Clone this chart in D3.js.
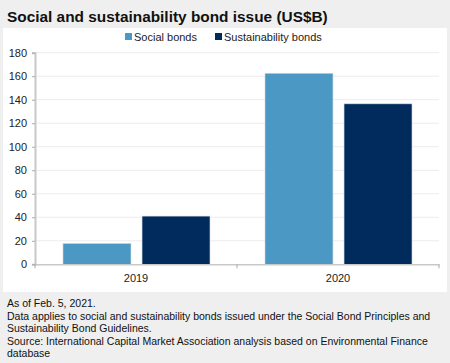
<!DOCTYPE html>
<html><head><meta charset="utf-8">
<script src="https://cdn.jsdelivr.net/npm/d3@7"></script>
<style>
body{margin:0;background:#efefef;}
svg{display:block;font-family:"Liberation Sans",Arial,sans-serif;}
</style></head><body>
<svg id="c" width="450" height="363"></svg>
<script>
const categories = ["2019", "2020"];
const seriesNames = ["Social bonds", "Sustainability bonds"];
const socialValues = [17.7, 162.5];
const sustainabilityValues = [41, 136.5];
const yTicks = [0, 20, 40, 60, 80, 100, 120, 140, 160, 180];
const colors = ["#4b98c4", "#002b5c"];
const notes = [
  "As of Feb. 5, 2021.",
  "Data applies to social and sustainability bonds issued under the Social Bond Principles and",
  "Sustainability Bond Guidelines.",
  "Source: International Capital Market Association analysis based on Environmental Finance",
  "database"
];

const svg = d3.select("#c");
svg.append("rect").attr("x",0).attr("y",0).attr("width",450).attr("height",363).attr("fill","#efefef");
svg.append("text").attr("x",7).attr("y",22).attr("font-size",15.4).attr("font-weight","bold")
  .attr("fill","#111").text("Social and sustainability bond issue (US$B)");
svg.append("rect").attr("x",3).attr("y",28).attr("width",444).attr("height",264).attr("fill","#fff");

const x0 = d3.scaleBand().domain(categories).range([35,439]);
const x1 = d3.scaleBand().domain(seriesNames).range([28, 175]).paddingInner(0.14);
const y = d3.scaleLinear().domain([0,180]).range([264.3,52.7]);

// gridlines
svg.append("g").selectAll("line").data(yTicks.filter(d=>d>0)).join("line")
  .attr("x1",35).attr("x2",439).attr("y1",d=>y(d)).attr("y2",d=>y(d))
  .attr("stroke","#ececec").attr("stroke-width",1);

// y axis
const ya = svg.append("g").attr("transform","translate(35,0)")
  .call(d3.axisLeft(y).tickValues(yTicks).tickSize(3).tickPadding(5));
ya.select(".domain").attr("stroke","#c8c8c8").attr("stroke-width",2);
ya.selectAll(".tick line").attr("stroke","#aaa");
ya.selectAll(".tick text").attr("font-size",11).attr("fill","#222").attr("font-family","Liberation Sans, Arial, sans-serif");

// bars
const data = categories.map((c,i)=>({cat:c, vals:[socialValues[i], sustainabilityValues[i]]}));
const g = svg.append("g");
g.selectAll("g").data(data).join("g").attr("transform",d=>`translate(${x0(d.cat)},0)`)
  .selectAll("rect").data(d=>d.vals.map((v,j)=>({s:seriesNames[j], v, j}))).join("rect")
  .attr("x",d=>x1(d.s)).attr("width",x1.bandwidth())
  .attr("y",d=>y(d.v)).attr("height",d=>y(0)-y(d.v))
  .attr("fill",d=>colors[d.j]).attr("stroke","#d0d8e4").attr("stroke-width",0.6);

// x axis
const xa = svg.append("g").attr("transform",`translate(0,${y(0)})`)
  .call(d3.axisBottom(x0).tickSize(0).tickPadding(10));
xa.select(".domain").attr("stroke","#c8c8c8").attr("stroke-width",1.5);
xa.selectAll(".tick text").attr("font-size",11).attr("fill","#222").attr("font-family","Liberation Sans, Arial, sans-serif");
// category separators
svg.append("g").selectAll("line").data([x0.range()[0], x0(categories[1]), x0.range()[1]]).join("line")
  .attr("x1",d=>d).attr("x2",d=>d).attr("y1",y(0)).attr("y2",y(0)+4).attr("stroke","#aaa");

// legend
const lg = svg.append("g").attr("font-size",11);
const legX = [125, 215];
seriesNames.forEach((s,i)=>{
  lg.append("rect").attr("x",legX[i]).attr("y",33).attr("width",7).attr("height",7).attr("fill",colors[i]);
  lg.append("text").attr("x",legX[i]+9).attr("y",41).attr("fill","#222").text(s);
});

// notes
svg.append("g").selectAll("text").data(notes).join("text")
  .attr("x",7).attr("y",(d,i)=>307+i*12.6).attr("font-size",10.5).attr("fill","#111")
  .text(d=>d);
</script>
</body></html>
